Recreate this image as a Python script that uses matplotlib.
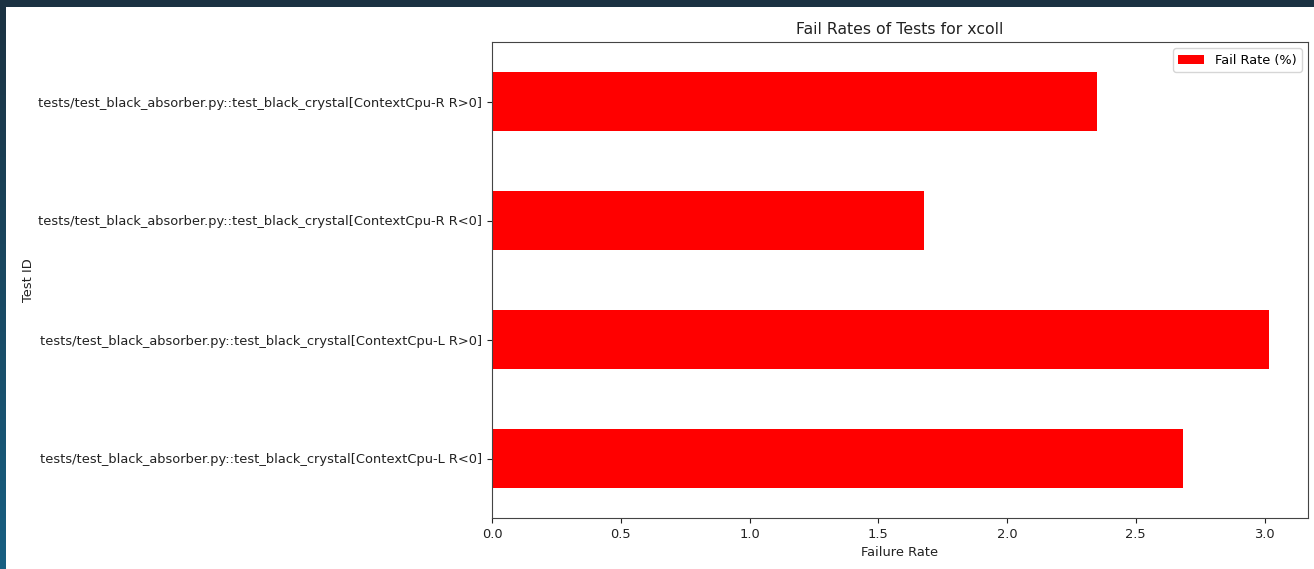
import matplotlib
matplotlib.use("Agg")
import matplotlib.pyplot as plt
from matplotlib.patches import Rectangle
from matplotlib.colors import LinearSegmentedColormap
import numpy as np

# Test IDs (bottom to top) and their failure rates in percent
test_ids = [
    "tests/test_black_absorber.py::test_black_crystal[ContextCpu-L R<0]",
    "tests/test_black_absorber.py::test_black_crystal[ContextCpu-L R>0]",
    "tests/test_black_absorber.py::test_black_crystal[ContextCpu-R R<0]",
    "tests/test_black_absorber.py::test_black_crystal[ContextCpu-R R>0]",
]
fail_rates = [2.683, 3.018, 1.676, 2.350]

W, H = 1314, 569
fig = plt.figure(figsize=(W / 100, H / 100), dpi=100)
fig.patch.set_facecolor("white")

# dark window frame: top strip and left strip with a vertical gradient
fig.patches.append(Rectangle((0, 1 - 7 / H), 1, 7 / H, transform=fig.transFigure,
                             facecolor="#1b3242", edgecolor="none", zorder=0))
grad = np.linspace(0, 1, 256).reshape(-1, 1)
cmap = LinearSegmentedColormap.from_list("frame", ["#1b3242", "#175f82"])
gax = fig.add_axes([0, 0, 6 / W, 1 - 7 / H])
gax.imshow(grad, aspect="auto", cmap=cmap, extent=[0, 1, 0, 1])
gax.axis("off")

left, right = 492 / W, 1308 / W
bottom, top = 1 - 518 / H, 1 - 42 / H
ax = fig.add_axes([left, bottom, right - left, top - bottom])

y = np.arange(len(test_ids))
ax.barh(y, fail_rates, height=0.5, color="red", label="Fail Rate (%)")
ax.set_yticks(y)
ax.set_yticklabels(test_ids)
ax.set_ylim(-0.5, len(test_ids) - 0.5)
ax.set_xlim(0, max(fail_rates) * 1.05)
ax.set_xticks([0.0, 0.5, 1.0, 1.5, 2.0, 2.5, 3.0])
ax.tick_params(labelsize=9.4, colors="#222222")
for s in ax.spines.values():
    s.set_edgecolor("#444444")

ax.set_title("Fail Rates of Tests for xcoll", fontsize=11.3, color="#222222")
ax.set_xlabel("Failure Rate", fontsize=9.4, color="#222222")
ax.set_ylabel("Test ID", fontsize=9.4, color="#222222")
ax.yaxis.set_label_coords(-457 / (right - left) / W, 0.5)
ax.legend(loc="upper right", fontsize=9.3)

fig.savefig("out.png", dpi=100)
